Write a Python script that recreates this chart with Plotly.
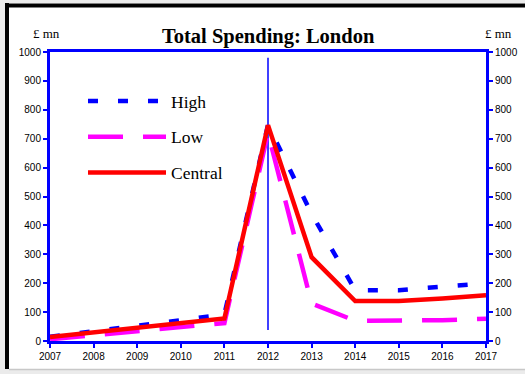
import plotly.graph_objects as go

years = [2007, 2008, 2009, 2010, 2011, 2012, 2013, 2014, 2015, 2016, 2017]
high = [15, 33, 52, 72, 92, 748, 440, 176, 176, 187, 200]
low = [6, 20, 32, 46, 62, 720, 130, 70, 70, 72, 77]
central = [14, 30, 45, 60, 78, 747, 290, 138, 138, 147, 158]
marker_x = [2012, 2012]
marker_y = [38, 980]
ytick_vals = [0, 100, 200, 300, 400, 500, 600, 700, 800, 900, 1000]

BLUE = "#0000ff"
MAG = "#ff00ff"
RED = "#ff0000"
SERIF = "Liberation Serif, Times New Roman, serif"
SANS = "Liberation Sans, Arial, sans-serif"

W, H = 525, 374
L, R, T, B = 50, 39, 52, 33
pw = W - L - R
ph = H - T - B


def px(x):
    return (x - L) / pw


def py(y):
    return (H - B - y) / ph


fig = go.Figure()
fig.add_trace(go.Scatter(x=marker_x, y=marker_y, mode="lines",
                         line=dict(color=BLUE, width=1.5), showlegend=False,
                         hoverinfo="skip"))
fig.add_trace(go.Scatter(x=years, y=high, name="High", mode="lines", legendgroup="a",
                         line=dict(color=BLUE, width=4.5, dash="10px,20px")))
fig.add_trace(go.Scatter(x=years, y=low, name="Low", mode="lines", legendgroup="b",
                         line=dict(color=MAG, width=4.5, dash="35px,20px")))
fig.add_trace(go.Scatter(x=years, y=central, name="Central", mode="lines", legendgroup="c",
                         line=dict(color=RED, width=4.5)))
fig.add_trace(go.Scatter(x=[years[0]], y=[None], yaxis="y2", showlegend=False,
                         hoverinfo="skip"))

shapes = [
    dict(type="rect", xref="paper", yref="paper", x0=px(5), x1=px(540), y0=py(369), y1=py(3),
         fillcolor="white", line=dict(width=0), layer="below"),
    dict(type="line", xref="paper", yref="paper", x0=px(7), x1=px(7), y0=py(369), y1=py(3),
         line=dict(color="black", width=4)),
    dict(type="line", xref="paper", yref="paper", x0=px(5), x1=px(540), y0=py(5.5), y1=py(5.5),
         line=dict(color="black", width=4)),
    dict(type="line", xref="paper", yref="paper", x0=px(9), x1=px(540), y0=py(369.5), y1=py(369.5),
         line=dict(color="#c8c8c8", width=1.5)),
]

annotations = [
    dict(text="<b>Total Spending: London</b>", x=px(268), y=py(36), xref="paper", yref="paper",
         xanchor="center", yanchor="middle",
         showarrow=False, font=dict(family=SERIF, size=20.5, color="black")),
    dict(text="£ mn", x=px(46), y=py(34), xref="paper", yref="paper",
         xanchor="center", yanchor="middle",
         showarrow=False, font=dict(family=SERIF, size=13, color="black")),
    dict(text="£ mn", x=px(498), y=py(34), xref="paper", yref="paper",
         xanchor="center", yanchor="middle",
         showarrow=False, font=dict(family=SERIF, size=13, color="black")),
]

axis_common = dict(showgrid=False, zeroline=False, linecolor=BLUE, linewidth=3,
                   ticks="outside", ticklen=4, tickwidth=2, tickcolor=BLUE, automargin=False,
                   tickfont=dict(family=SANS, size=10, color="black"))

fig.update_layout(
    width=W, height=H,
    margin=dict(l=L, r=R, t=T, b=B, autoexpand=False),
    paper_bgcolor="#ebebeb", plot_bgcolor="white",
    shapes=shapes, annotations=annotations,
    xaxis=dict(range=[2007, 2017], tickvals=years, showline=True, mirror=True, **axis_common),
    yaxis=dict(range=[0, 1000], tickvals=ytick_vals, showline=True, mirror=True, **axis_common),
    yaxis2=dict(range=[0, 1000], tickvals=ytick_vals, overlaying="y", side="right",
                showline=True, **axis_common),
    legend=dict(x=px(83), y=py(83), xanchor="left", yanchor="top", bgcolor="rgba(0,0,0,0)",
                font=dict(family=SERIF, size=17.5, color="black"), itemwidth=78,
                tracegroupgap=10),
    showlegend=True,
)

fig.write_html("out.html")
